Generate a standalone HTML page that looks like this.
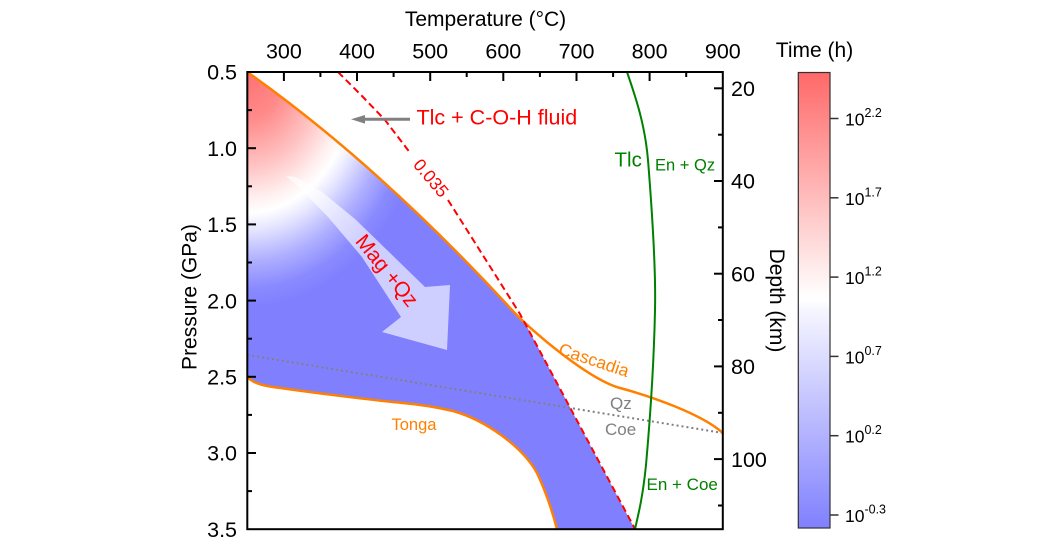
<!DOCTYPE html>
<html>
<head>
<meta charset="utf-8">
<style>
  html, body { margin: 0; padding: 0; background: #ffffff; }
  svg { display: block; }
  text { font-family: "Liberation Sans", Arial, sans-serif; }
</style>
</head>
<body>
<svg width="1063" height="542" viewBox="0 0 1063 542" xmlns="http://www.w3.org/2000/svg">
  <defs>
    <radialGradient id="heat" gradientUnits="userSpaceOnUse" cx="247" cy="72" r="235" fx="247" fy="72"
                    gradientTransform="matrix(0.78 0 0 1 54.34 0)">
      <stop offset="0" stop-color="rgb(255,112,112)"/>
      <stop offset="0.2" stop-color="rgb(255,138,138)"/>
      <stop offset="0.4" stop-color="rgb(255,195,195)"/>
      <stop offset="0.54" stop-color="rgb(255,240,240)"/>
      <stop offset="0.6" stop-color="rgb(255,255,255)"/>
      <stop offset="0.67" stop-color="rgb(230,230,255)"/>
      <stop offset="0.8" stop-color="rgb(176,176,255)"/>
      <stop offset="0.92" stop-color="rgb(138,138,255)"/>
      <stop offset="1" stop-color="rgb(128,128,255)"/>
    </radialGradient>
    <linearGradient id="cbar" x1="0" y1="0" x2="0" y2="1">
      <stop offset="0" stop-color="rgb(255,104,104)"/>
      <stop offset="0.484" stop-color="rgb(255,252,252)"/>
      <stop offset="0.5" stop-color="rgb(255,255,255)"/>
      <stop offset="0.52" stop-color="rgb(246,246,255)"/>
      <stop offset="1" stop-color="rgb(128,128,255)"/>
    </linearGradient>
  </defs>

  <rect x="0" y="0" width="1063" height="542" fill="#ffffff"/>

  <!-- heat / reaction region -->
  <path fill="url(#heat)" d="M247.3,72 Q379.5,165.7 512,310 L519,317.3 L525,323 L635,529.2 L557,529.2 C552,510 545,490 537,473 C522,446 485,420 453,411 C440,408 425,405 403,403 C370,400 300,391 270,386.5 C260,385 252,382 247.3,377 Z"/>

  <!-- translucent arrow -->
  <polygon fill="#ffffff" fill-opacity="0.62" points="286,176 296,177 322,192 355,219 388,251 425,287 450,285 447,350 382,332 401,317 388,297 362,257 328,217 300,188"/>

  <!-- Qz/Coe dotted boundary -->
  <line x1="247.3" y1="355" x2="722.8" y2="433" stroke="#808080" stroke-width="2" stroke-dasharray="2 3"/>

  <!-- Tonga -->
  <path fill="none" stroke="#ff8000" stroke-width="2.5"
    d="M247.3,377 C252,382 260,385 270,386.5 C300,391 370,400 403,403 C425,405 440,408 453,411 C485,420 522,446 537,473 C545,490 552,510 557,529.2"/>

  <!-- Cascadia -->
  <path fill="none" stroke="#ff8000" stroke-width="2.5"
    d="M247.3,72 Q379.5,165.7 512,310 C532,332 590,380 620,388 C650,396 702,414 722.8,433"/>

  <!-- red dashed 0.035 -->
  <polyline fill="none" stroke="#ff0000" stroke-width="2" stroke-dasharray="7 4"
    points="338,72 362,96 385,120 411,154"/>
  <polyline fill="none" stroke="#ff0000" stroke-width="2" stroke-dasharray="7 4"
    points="448,200 520,314 635,529"/>

  <!-- green Tlc boundary -->
  <path fill="none" stroke="#008000" stroke-width="2"
    d="M627,72 C636,98 645,125 648,160 C652,210 656,270 655,310 C654,360 650,420 646,465 C643,495 639,512 635,529"/>

  <!-- gray arrow -->
  <line x1="410" y1="119.3" x2="362" y2="119.3" stroke="#808080" stroke-width="3"/>
  <polygon fill="#808080" points="351,119.3 365,115 365,123.6"/>

  <!-- frame -->
  <rect x="247.3" y="72" width="475.5" height="457.2" fill="none" stroke="#000" stroke-width="2"/>

  <!-- top ticks (temperature) -->
  <g stroke="#000" stroke-width="2">
    <line x1="283.9" y1="72" x2="283.9" y2="81"/>
    <line x1="357" y1="72" x2="357" y2="81"/>
    <line x1="430.2" y1="72" x2="430.2" y2="81"/>
    <line x1="503.3" y1="72" x2="503.3" y2="81"/>
    <line x1="576.5" y1="72" x2="576.5" y2="81"/>
    <line x1="649.6" y1="72" x2="649.6" y2="81"/>
    <line x1="320.4" y1="72" x2="320.4" y2="77"/>
    <line x1="393.6" y1="72" x2="393.6" y2="77"/>
    <line x1="466.7" y1="72" x2="466.7" y2="77"/>
    <line x1="539.9" y1="72" x2="539.9" y2="77"/>
    <line x1="613.1" y1="72" x2="613.1" y2="77"/>
    <line x1="686.2" y1="72" x2="686.2" y2="77"/>
  </g>
  <!-- left ticks (pressure) -->
  <g stroke="#000" stroke-width="2">
    <line x1="247.3" y1="148.2" x2="256" y2="148.2"/>
    <line x1="247.3" y1="224.4" x2="256" y2="224.4"/>
    <line x1="247.3" y1="300.6" x2="256" y2="300.6"/>
    <line x1="247.3" y1="376.8" x2="256" y2="376.8"/>
    <line x1="247.3" y1="453" x2="256" y2="453"/>
    <line x1="247.3" y1="110.1" x2="252" y2="110.1"/>
    <line x1="247.3" y1="186.3" x2="252" y2="186.3"/>
    <line x1="247.3" y1="262.5" x2="252" y2="262.5"/>
    <line x1="247.3" y1="338.7" x2="252" y2="338.7"/>
    <line x1="247.3" y1="414.9" x2="252" y2="414.9"/>
    <line x1="247.3" y1="491.1" x2="252" y2="491.1"/>
  </g>
  <!-- right ticks (depth) -->
  <g stroke="#000" stroke-width="2">
    <line x1="722.8" y1="88.3" x2="714" y2="88.3"/>
    <line x1="722.8" y1="181" x2="714" y2="181"/>
    <line x1="722.8" y1="273.7" x2="714" y2="273.7"/>
    <line x1="722.8" y1="366.4" x2="714" y2="366.4"/>
    <line x1="722.8" y1="459.1" x2="714" y2="459.1"/>
    <line x1="722.8" y1="134.7" x2="718" y2="134.7"/>
    <line x1="722.8" y1="227.4" x2="718" y2="227.4"/>
    <line x1="722.8" y1="320" x2="718" y2="320"/>
    <line x1="722.8" y1="412.8" x2="718" y2="412.8"/>
    <line x1="722.8" y1="505.5" x2="718" y2="505.5"/>
  </g>

  <!-- axis titles -->
  <text x="485.5" y="26" font-size="21" text-anchor="middle" fill="#000">Temperature (°C)</text>
  <text x="196.5" y="297" font-size="21" text-anchor="middle" fill="#000" transform="rotate(-90 196.5 297)">Pressure (GPa)</text>
  <text x="770" y="300.5" font-size="21" text-anchor="middle" fill="#000" transform="rotate(90 770 300.5)">Depth (km)</text>
  <text x="814.5" y="57" font-size="21" text-anchor="middle" fill="#000">Time (h)</text>

  <!-- top tick labels -->
  <g font-size="21.5" text-anchor="middle" fill="#000">
    <text x="283.9" y="58.5">300</text>
    <text x="357" y="58.5">400</text>
    <text x="430.2" y="58.5">500</text>
    <text x="503.3" y="58.5">600</text>
    <text x="576.5" y="58.5">700</text>
    <text x="649.6" y="58.5">800</text>
    <text x="722.8" y="58.5">900</text>
  </g>
  <!-- left tick labels -->
  <g font-size="21.5" text-anchor="end" fill="#000">
    <text x="237" y="79.7">0.5</text>
    <text x="237" y="155.9">1.0</text>
    <text x="237" y="232.1">1.5</text>
    <text x="237" y="308.3">2.0</text>
    <text x="237" y="384.5">2.5</text>
    <text x="237" y="460.7">3.0</text>
    <text x="237" y="536.9">3.5</text>
  </g>
  <!-- right tick labels -->
  <g font-size="21.5" text-anchor="start" fill="#000">
    <text x="731" y="96">20</text>
    <text x="731" y="188.7">40</text>
    <text x="731" y="281.4">60</text>
    <text x="731" y="374.1">80</text>
    <text x="731" y="466.8">100</text>
  </g>

  <!-- colorbar -->
  <rect x="798.3" y="72.5" width="31.7" height="455.5" fill="url(#cbar)" stroke="#333" stroke-width="1.2"/>
  <g stroke="#333" stroke-width="1.5">
    <line x1="830" y1="118.5" x2="838.5" y2="118.5"/>
    <line x1="830" y1="197.8" x2="838.5" y2="197.8"/>
    <line x1="830" y1="277.1" x2="838.5" y2="277.1"/>
    <line x1="830" y1="356.4" x2="838.5" y2="356.4"/>
    <line x1="830" y1="435.7" x2="838.5" y2="435.7"/>
    <line x1="830" y1="515" x2="838.5" y2="515"/>
  </g>
  <g fill="#000">
    <text x="845" y="125.5" font-size="17.5">10<tspan font-size="12.5" dy="-8.5">2.2</tspan></text>
    <text x="845" y="204.8" font-size="17.5">10<tspan font-size="12.5" dy="-8.5">1.7</tspan></text>
    <text x="845" y="284.1" font-size="17.5">10<tspan font-size="12.5" dy="-8.5">1.2</tspan></text>
    <text x="845" y="363.4" font-size="17.5">10<tspan font-size="12.5" dy="-8.5">0.7</tspan></text>
    <text x="845" y="442.7" font-size="17.5">10<tspan font-size="12.5" dy="-8.5">0.2</tspan></text>
    <text x="845" y="522" font-size="17.5">10<tspan font-size="12.5" dy="-8.5">-0.3</tspan></text>
  </g>

  <!-- annotations -->
  <text x="416.5" y="124.3" font-size="21.5" fill="#ff0000">Tlc + C-O-H fluid</text>
  <text x="431" y="178" font-size="17.5" fill="#ff0000" text-anchor="middle" dy="6" transform="rotate(50 431 178)">0.035</text>
  <text x="387" y="270.5" font-size="21" fill="#ff0000" text-anchor="middle" dy="7" transform="rotate(51 387 270.5)">Mag +Qz</text>
  <text x="594" y="360" font-size="17.5" fill="#ff8000" text-anchor="middle" dy="6" transform="rotate(18.5 594 360)">Cascadia</text>
  <text x="391.5" y="430" font-size="16.5" fill="#ff8000">Tonga</text>
  <text x="610" y="409" font-size="17" fill="#808080">Qz</text>
  <text x="605" y="435" font-size="17" fill="#808080">Coe</text>
  <text x="614.5" y="166.7" font-size="20.5" fill="#008000">Tlc</text>
  <text x="655" y="170.7" font-size="16.5" fill="#008000">En + Qz</text>
  <text x="646.5" y="490" font-size="17" fill="#008000">En + Coe</text>
</svg>
</body>
</html>
